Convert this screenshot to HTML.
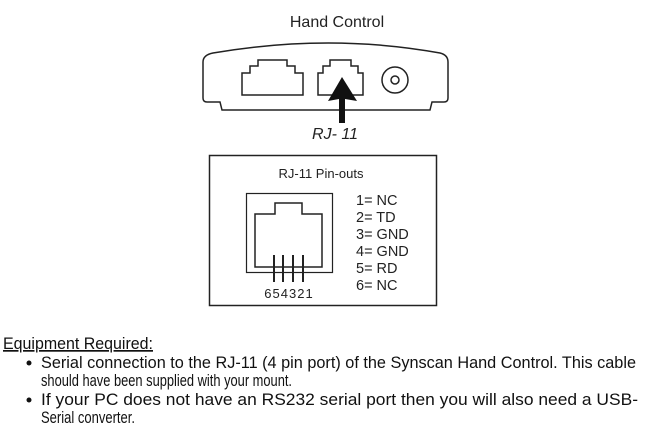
<!DOCTYPE html>
<html><head><style>html,body{margin:0;padding:0;background:#fff}</style></head><body>
<svg width="648" height="437" viewBox="0 0 648 437" xmlns="http://www.w3.org/2000/svg" font-family="Liberation Sans, sans-serif" fill="none" stroke="#222">
<text x="337" y="27" font-size="16" fill="#222" stroke="none" text-anchor="middle">Hand Control</text>
<path d="M213,53 Q330,33 440,53 Q448,55 448,62 L448,98 Q448,102 444,102 L432,102 L430,110 L222,110 L220,102 L207,102 Q203,102 203,98 L203,62 Q203,55 213,53 Z" stroke-width="1.5"/>
<path d="M242,95 L242,73 L250,73 L250,66 L258,66 L258,60 L287,60 L287,66 L295,66 L295,73 L303,73 L303,95 Z" stroke-width="1.5"/>
<path d="M318,95 L318,73 L323,73 L323,66 L330,66 L330,60 L351,60 L351,66 L358,66 L358,73 L363,73 L363,95 Z" stroke-width="1.5"/>
<circle cx="395" cy="80" r="13" stroke-width="1.5"/>
<circle cx="395" cy="80" r="4" stroke-width="1.5"/>
<path d="M342,77 L357,101 L345,99 L345,123 L339,123 L339,99 L328,101 Z" fill="#111" stroke="none"/>
<text x="335" y="139" font-size="16" font-style="italic" fill="#222" stroke="none" text-anchor="middle">RJ- 11</text>
<rect x="209.5" y="155.5" width="227" height="150" stroke-width="1.5"/>
<text x="321" y="178" font-size="13" fill="#222" stroke="none" text-anchor="middle">RJ-11 Pin-outs</text>
<rect x="246.5" y="193.5" width="86" height="79" stroke-width="1.2"/>
<path d="M255,267 L255,214 L275,214 L275,203 L302,203 L302,214 L322,214 L322,267 Z" stroke-width="1.5"/>
<path d="M274,255 V282 M283,255 V282 M293,255 V282 M303,255 V282" stroke-width="2"/>
<text x="289" y="298" font-size="13" fill="#222" stroke="none" text-anchor="middle" letter-spacing="1">654321</text>
<g font-size="14.5" fill="#222" stroke="none">
<text x="356" y="205">1= NC</text>
<text x="356" y="222">2= TD</text>
<text x="356" y="239">3= GND</text>
<text x="356" y="256">4= GND</text>
<text x="356" y="273">5= RD</text>
<text x="356" y="290">6= NC</text>
</g>
<g font-size="17" fill="#111" stroke="none">
<text x="3" y="349" textLength="150" lengthAdjust="spacingAndGlyphs" text-decoration="underline">Equipment Required:</text>
<circle cx="29" cy="363" r="2.5"/>
<text x="41" y="368" textLength="595" lengthAdjust="spacingAndGlyphs">Serial connection to the RJ-11 (4 pin port) of the Synscan Hand Control. This cable</text>
<text x="41" y="386" textLength="251" lengthAdjust="spacingAndGlyphs">should have been supplied with your mount.</text>
<circle cx="29" cy="400" r="2.5"/>
<text x="41" y="405" textLength="597" lengthAdjust="spacingAndGlyphs">If your PC does not have an RS232 serial port then you will also need a USB-</text>
<text x="41" y="423" textLength="94" lengthAdjust="spacingAndGlyphs">Serial converter.</text>
</g>
</svg>
</body></html>
